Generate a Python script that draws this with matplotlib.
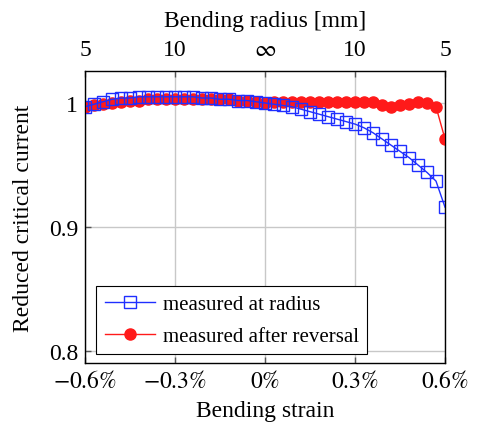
import matplotlib
matplotlib.use("Agg")
import matplotlib.pyplot as plt

plt.rcParams['font.family'] = ['Liberation Serif', 'DejaVu Serif']
plt.rcParams['mathtext.fontset'] = 'stix'

strain = [-0.60, -0.57, -0.54, -0.51, -0.48, -0.45, -0.42, -0.39, -0.36, -0.33, -0.30,
          -0.27, -0.24, -0.21, -0.18, -0.15, -0.12, -0.09, -0.06, -0.03, 0.00,
          0.03, 0.06, 0.09, 0.12, 0.15, 0.18, 0.21, 0.24, 0.27, 0.30,
          0.33, 0.36, 0.39, 0.42, 0.45, 0.48, 0.51, 0.54, 0.57, 0.60]

measured_at_radius = [0.997, 0.999, 1.001, 1.003, 1.004, 1.004, 1.005, 1.005, 1.005, 1.005, 1.005,
                      1.005, 1.005, 1.004, 1.004, 1.003, 1.003, 1.002, 1.002, 1.001, 1.000,
                      0.999, 0.998, 0.997, 0.995, 0.993, 0.991, 0.989, 0.987, 0.985, 0.983,
                      0.980, 0.976, 0.971, 0.966, 0.961, 0.956, 0.950, 0.944, 0.937, 0.916]

measured_after_reversal = [0.997, 0.998, 0.999, 1.000, 1.001, 1.002, 1.002, 1.003, 1.003, 1.003, 1.003,
                           1.003, 1.003, 1.003, 1.003, 1.003, 1.003, 1.002, 1.002, 1.001, 1.000,
                           1.001, 1.001, 1.001, 1.001, 1.001, 1.001, 1.001, 1.001, 1.001, 1.001,
                           1.001, 1.001, 0.998, 0.997, 0.998, 0.999, 1.001, 1.000, 0.997, 0.971]

x_ticks = [-0.6, -0.3, 0.0, 0.3, 0.6]
x_ticklabels = ['$-0.6\\%$', '$-0.3\\%$', '$0\\%$', '$0.3\\%$', '$0.6\\%$']
top_ticklabels = ['5', '10', '$\\infty$', '10', '5']
y_ticks = [0.8, 0.9, 1.0]
y_ticklabels = ['0.8', '0.9', '1']

fig = plt.figure(figsize=(4.79, 4.31), dpi=100)
ax = fig.add_axes([85/479, 1 - 364/431, 360/479, 292/431])

blue = '#1f2fff'
red = '#ff1a1a'
ax.plot(strain, measured_at_radius, '-', color=blue, lw=1.0, marker='s', ms=8,
        mfc='none', mec=blue, mew=1.0, label='measured at radius', zorder=4)
ax.plot(strain, measured_after_reversal, '-', color=red, lw=1.0, marker='o', ms=8,
        mfc=red, mec=red, label='measured after reversal', zorder=3)

ax.set_xlim(-0.6, 0.6)
ax.set_ylim(0.7903, 1.0258)
ax.set_xticks(x_ticks)
ax.set_xticklabels(x_ticklabels)
ax.set_yticks(y_ticks)
ax.set_yticklabels(y_ticklabels)
ax.grid(True, color='#c8c8c8', lw=1.0)
ax.set_axisbelow(True)
ax.tick_params(direction='in', length=4, width=1.0, color='#555555', labelsize=17, pad=5)
for s in ax.spines.values():
    s.set_linewidth(1.0)
    s.set_color('#333333')

ax.set_xlabel('Bending strain', fontsize=17, labelpad=6)
ax.set_ylabel('Reduced critical current', fontsize=17, labelpad=11)

ax2 = ax.twiny()
ax2.set_xlim(ax.get_xlim())
ax2.set_xticks(x_ticks)
ax2.set_xticklabels(top_ticklabels)
ax2.tick_params(direction='in', length=4, width=1.0, color='#555555', labelsize=17, pad=8)
ax2.set_xlabel('Bending radius [mm]', fontsize=17, labelpad=9)

leg = ax.legend(loc='lower left', fontsize=15, frameon=True, fancybox=False,
                edgecolor='black', framealpha=1, handlelength=2.4,
                bbox_to_anchor=(0.02, 0.015), borderaxespad=0.2, labelspacing=0.6,
                handletextpad=0.4, borderpad=0.4)
leg.get_frame().set_linewidth(0.8)

fig.savefig('out.png', dpi=100)
